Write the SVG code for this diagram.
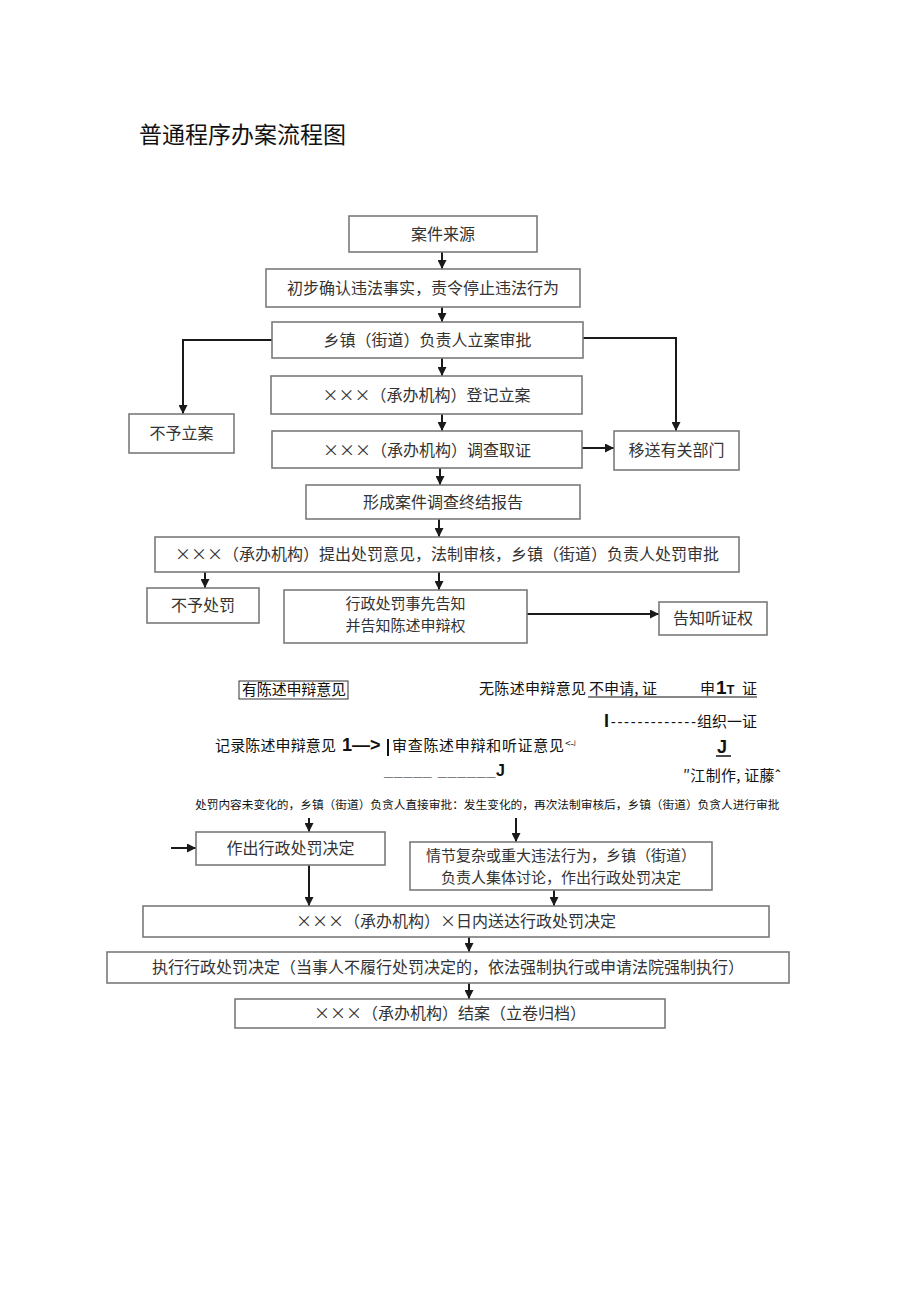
<svg xmlns="http://www.w3.org/2000/svg" width="920" height="1301" viewBox="0 0 920 1301">
<defs>
<style>
.box{fill:#fff;stroke:#7a7a7a;stroke-width:1.6}
.t{font-family:"Noto Sans CJK SC","Noto Sans",sans-serif;font-size:16px;fill:#333;text-anchor:middle}
.t2{font-family:"Noto Sans CJK SC","Noto Sans",sans-serif;font-size:15px;fill:#333;text-anchor:middle}
.g{font-family:"Noto Sans CJK SC","Noto Sans",sans-serif;font-size:15px;fill:#111}
.lat{font-family:"Liberation Sans",Arial,sans-serif;font-weight:bold;fill:#111}
.c{fill:none;stroke:#1a1a1a;stroke-width:2}
</style>
<marker id="ah" viewBox="0 0 10 10" refX="10" refY="5" markerWidth="9" markerHeight="9" markerUnits="userSpaceOnUse" orient="auto">
<path d="M0,0 L10,5 L0,10 z" fill="#1a1a1a"/>
</marker>
</defs>
<rect width="920" height="1301" fill="#fff"/>
<text x="139" y="143" style="font-family:'Noto Sans CJK SC',sans-serif;font-size:23px;fill:#111">普通程序办案流程图</text>

<g id="connectors">
<line class="c" x1="442" y1="252" x2="442" y2="269" marker-end="url(#ah)"/>
<line class="c" x1="442" y1="307" x2="442" y2="322" marker-end="url(#ah)"/>
<polyline class="c" points="272,340 183,340 183,414" marker-end="url(#ah)"/>
<polyline class="c" points="583,338 676,338 676,431" marker-end="url(#ah)"/>
<line class="c" x1="442" y1="358" x2="442" y2="376" marker-end="url(#ah)"/>
<line class="c" x1="442" y1="414" x2="442" y2="431" marker-end="url(#ah)"/>
<line class="c" x1="582" y1="448" x2="614" y2="448" marker-end="url(#ah)"/>
<line class="c" x1="440" y1="468" x2="440" y2="485" marker-end="url(#ah)"/>
<line class="c" x1="439" y1="519" x2="439" y2="537" marker-end="url(#ah)"/>
<line class="c" x1="205" y1="572" x2="205" y2="588" marker-end="url(#ah)"/>
<line class="c" x1="439" y1="572" x2="439" y2="590" marker-end="url(#ah)"/>
<line class="c" x1="527" y1="614" x2="659" y2="614" marker-end="url(#ah)"/>
<line class="c" x1="309" y1="818" x2="309" y2="832" marker-end="url(#ah)"/>
<line class="c" x1="171" y1="848" x2="196" y2="848" marker-end="url(#ah)"/>
<line class="c" x1="516" y1="818" x2="516" y2="842" marker-end="url(#ah)"/>
<line class="c" x1="309" y1="865" x2="309" y2="906" marker-end="url(#ah)"/>
<line class="c" x1="554" y1="890" x2="554" y2="906" marker-end="url(#ah)"/>
<line class="c" x1="469" y1="937" x2="469" y2="952" marker-end="url(#ah)"/>
<line class="c" x1="469" y1="983" x2="469" y2="999" marker-end="url(#ah)"/>
</g>

<g id="n1"><rect class="box" x="349" y="216" width="188" height="36"/><text class="t" x="443" y="240">案件来源</text></g>
<g id="n2"><rect class="box" x="266" y="269" width="314" height="38"/><text class="t" x="423" y="294">初步确认违法事实，责令停止违法行为</text></g>
<g id="n3"><rect class="box" x="272" y="322" width="311" height="36"/><text class="t" x="427.5" y="346">乡镇（街道）负责人立案审批</text></g>
<g id="n4"><rect class="box" x="271" y="376" width="311" height="38"/><text class="t" x="426.5" y="401" textLength="208">×××（承办机构）登记立案</text></g>
<g id="n5"><rect class="box" x="272" y="431" width="310" height="37"/><text class="t" x="427" y="455.5" textLength="208">×××（承办机构）调查取证</text></g>
<g id="n6"><rect class="box" x="129" y="414" width="105" height="39"/><text class="t" x="181.5" y="439">不予立案</text></g>
<g id="n7"><rect class="box" x="614" y="431" width="125" height="39"/><text class="t" x="676.5" y="456">移送有关部门</text></g>
<g id="n8"><rect class="box" x="306" y="485" width="274" height="34"/><text class="t" x="443" y="508">形成案件调查终结报告</text></g>
<g id="n9"><rect class="box" x="155" y="537" width="584" height="35"/><text class="t" x="447" y="560" textLength="544">×××（承办机构）提出处罚意见，法制审核，乡镇（街道）负责人处罚审批</text></g>
<g id="n10"><rect class="box" x="147" y="588" width="112" height="35"/><text class="t" x="203" y="611">不予处罚</text></g>
<g id="n11"><rect class="box" x="284" y="590" width="243" height="53"/><text class="t2" x="405.5" y="609">行政处罚事先告知</text><text class="t2" x="405.5" y="631">并告知陈述申辩权</text></g>
<g id="n12"><rect class="box" x="659" y="602" width="108" height="33"/><text class="t" x="713" y="624">告知听证权</text></g>

<g id="notes">
<rect x="239" y="681" width="109" height="18" fill="none" stroke="#333" stroke-width="1"/>
<text class="g" x="242" y="695" textLength="104">有陈述申辩意见</text>
<text class="g" x="479" y="694" textLength="107">无陈述申辩意见</text>
<text class="g" x="589" y="694" textLength="68">不申请, 证</text>
<text class="g" x="700" y="694">申</text>
<text class="lat" x="716" y="694"><tspan style="font-size:19px">1</tspan><tspan style="font-size:13px">T</tspan></text>
<text class="g" x="742" y="694">证</text>
<line x1="588" y1="697" x2="757" y2="697" stroke="#111" stroke-width="1"/>
<text class="lat" x="604" y="727" style="font-size:15px" textLength="92"><tspan style="font-size:18px">I</tspan><tspan style="font-weight:normal">-------------</tspan></text>
<text class="g" x="697" y="727" textLength="60">组织一证</text>
<text class="g" x="215" y="751" textLength="121">记录陈述申辩意见</text>
<text class="lat" x="342" y="751" style="font-size:18px">1—&gt;</text>
<line x1="388" y1="739" x2="388" y2="756" stroke="#111" stroke-width="2"/>
<text class="g" x="392" y="751" textLength="172">审查陈述申辩和听证意见</text>
<text class="g" x="565" y="747" style="font-size:10px">&lt;-ʲ</text>
<text class="lat" x="717" y="753" style="font-size:18px">J</text>
<line x1="716" y1="756" x2="731" y2="756" stroke="#111" stroke-width="1.5"/>
<text class="lat" x="384" y="776" style="font-size:16px" textLength="121">_____ ______J</text>
<text class="g" x="683" y="781" textLength="98">″江制作, 证藤ˆ</text>
<text class="g" x="195" y="809" style="font-size:11.7px">处罚内容未变化的，乡镇（街道）负贪人直接审批：发生变化的，再次法制审核后，乡镇（街道）负贪人进行审批</text>
</g>

<g id="n13"><rect class="box" x="196" y="832" width="189" height="33"/><text class="t" x="290.5" y="854">作出行政处罚决定</text></g>
<g id="n14"><rect class="box" x="410" y="842" width="302" height="48"/><text class="t2" x="561" y="861">情节复杂或重大违法行为，乡镇（街道）</text><text class="t2" x="561" y="883">负责人集体讨论，作出行政处罚决定</text></g>
<g id="n15"><rect class="box" x="143" y="906" width="626" height="31"/><text class="t" x="456" y="927" textLength="320">×××（承办机构）×日内送达行政处罚决定</text></g>
<g id="n16"><rect class="box" x="107" y="952" width="682" height="31"/><text class="t" x="448" y="973" textLength="592">执行行政处罚决定（当事人不履行处罚决定的，依法强制执行或申请法院强制执行）</text></g>
<g id="n17"><rect class="box" x="235" y="999" width="430" height="29"/><text class="t" x="450" y="1019" textLength="272">×××（承办机构）结案（立卷归档）</text></g>
</svg>
